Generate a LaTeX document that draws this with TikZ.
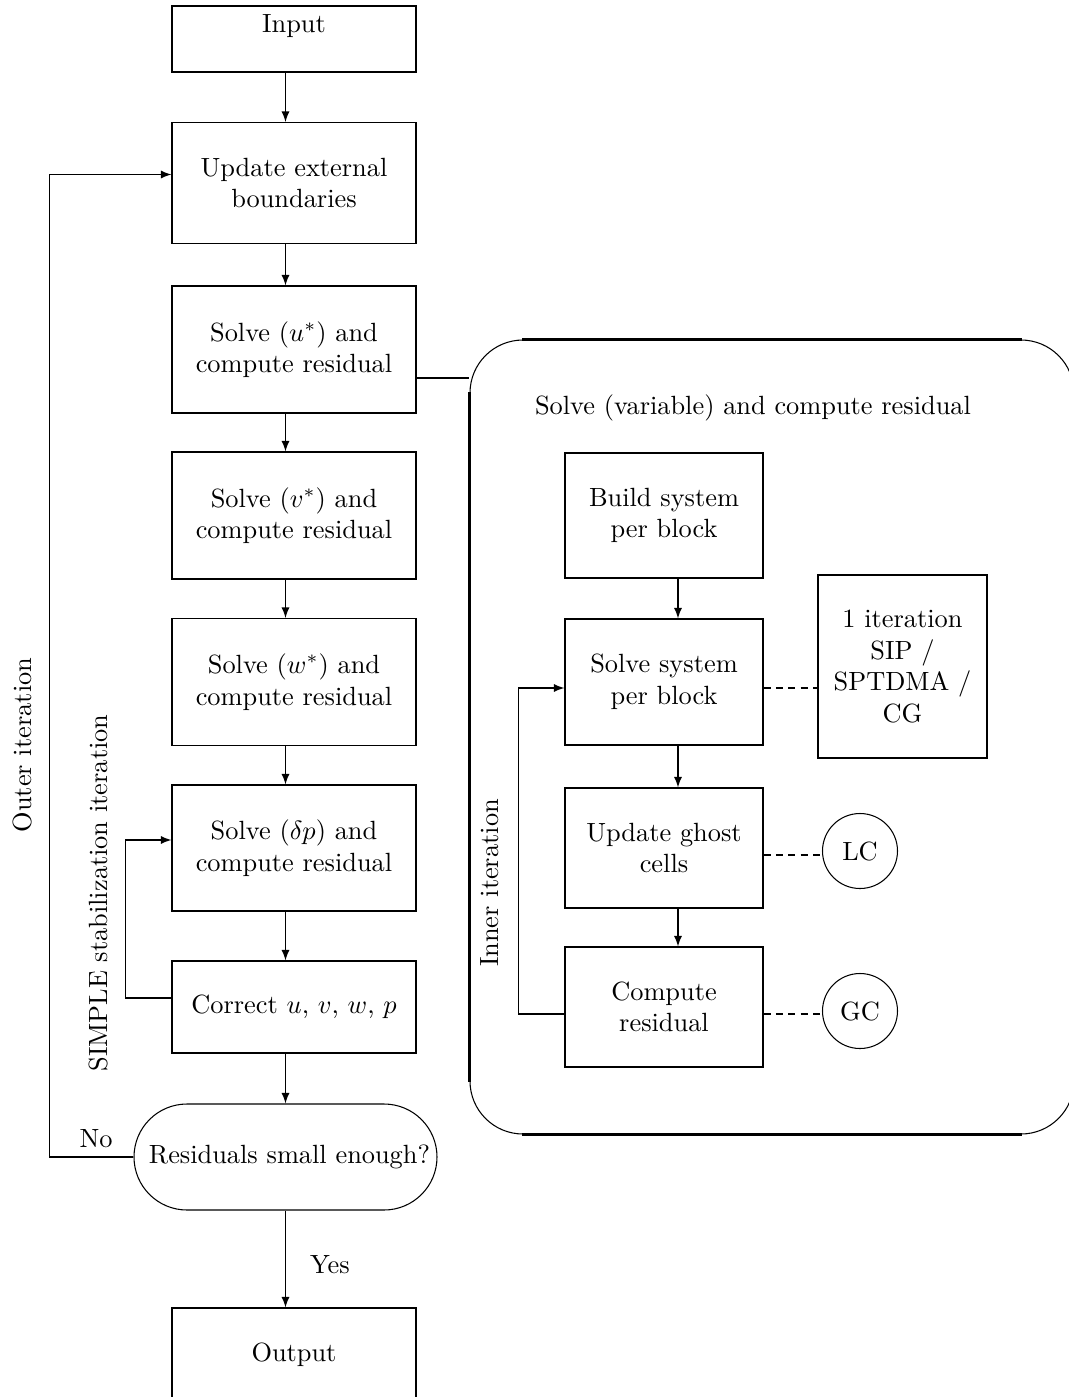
\documentclass[tikz,border=0pt]{standalone}
\usetikzlibrary{calc}
\def\pxu{0.0133333cm}
\begin{document}
\begin{tikzpicture}[x=0.0133333cm, y=-0.0133333cm,
  box/.style={draw, rectangle, align=center, inner sep=0pt},
  arr/.style={-latex},
  dsh/.style={dash pattern=on 2.7pt off 2pt}]
\useasboundingbox (0,0) rectangle (1068,1397);

% left column
\node (input) [box, minimum width=244*\pxu, minimum height=66*\pxu] at (294,39) {};
\node (inputtxt) at (294,26) {Input};
\node (upd) [box, minimum width=244*\pxu, minimum height=121*\pxu] at (294,183) {Update external\\boundaries};
\node (su) [box, minimum width=244*\pxu, minimum height=127*\pxu] at (294,349.5) {Solve $(u^*)$ and\\compute residual};
\node (sv) [box, minimum width=244*\pxu, minimum height=127*\pxu] at (294,515.5) {Solve $(v^*)$ and\\compute residual};
\node (sw) [box, minimum width=244*\pxu, minimum height=127*\pxu] at (294,682) {Solve $(w^*)$ and\\compute residual};
\node (sdp) [box, minimum width=244*\pxu, minimum height=126*\pxu] at (294,848) {Solve $(\delta p)$ and\\compute residual};
\node (corr) [box, minimum width=244*\pxu, minimum height=92*\pxu] at (294,1007) {Correct $u$, $v$, $w$, $p$};
\node (res) [draw, rounded corners=0.7067cm, inner sep=0pt, minimum width=303*\pxu, minimum height=106*\pxu] at (285.5,1157) {\hspace{3pt}Residuals small enough?};
\node (output) [box, minimum width=244*\pxu, minimum height=122*\pxu] at (294,1369) {};
\node (outtxt) at (294,1355) {Output};

\draw[arr] (input.south -| res.center) -- (upd.north -| res.center);
\draw[arr] (upd.south -| res.center) -- (su.north -| res.center);
\draw[arr] (su.south -| res.center) -- (sv.north -| res.center);
\draw[arr] (sv.south -| res.center) -- (sw.north -| res.center);
\draw[arr] (sw.south -| res.center) -- (sdp.north -| res.center);
\draw[arr] (sdp.south -| res.center) -- (corr.north -| res.center);
\draw[arr] (corr.south -| res.center) -- (res.north);
\draw[arr] (res.south) -- (output.north -| res.center);
\node (yes) at (330,1265) {Yes};

% loops on the left
\draw[arr] ($(corr.west)+(0,-9)$) -- ++(-46,0) |- ($(sdp.west)+(0,-8)$);
\draw[arr] (res.west) -- ++(-84,0) |- ($(upd.west)+(0,-8.5)$);
\node (no) at (96,1139) {No};
\node (outer) [rotate=90] at (22,745) {Outer iteration};
\node (simple) [rotate=90] at (98,893) {SIMPLE stabilization iteration};

% container
\node (cont) [draw, rounded corners=0.7067cm, inner sep=0pt, minimum width=604*\pxu, minimum height=794*\pxu] at (772,737) {};
\draw[thick] ($(cont.north west)+(53,0)$) -- ($(cont.north east)+(-53,0)$);
\draw[thick] ($(cont.south west)+(53,0)$) -- ($(cont.south east)+(-53,0)$);
\draw[thick] ($(cont.north west)+(0,53)$) -- ($(cont.south west)+(0,-53)$);
\draw[thick] ($(cont.north east)+(0,53)$) -- ($(cont.south east)+(0,-53)$);
\draw ($(su.east)+(0,28.5)$) -- (cont.west |- {$(su.east)+(0,28.5)$});
\node (title) at (753,408) {Solve (variable) and compute residual};

% right column
\coordinate (rc) at (678,0);
\node (build) [box, minimum width=198*\pxu, minimum height=125*\pxu] at (664,515.5) {Build system\\per block};
\node (solve) [box, minimum width=198*\pxu, minimum height=126*\pxu] at (664,682) {Solve system\\per block};
\node (ghost) [box, minimum width=198*\pxu, minimum height=120*\pxu] at (664,848) {Update ghost\\cells};
\node (comp) [box, minimum width=198*\pxu, minimum height=120*\pxu] at (664,1007) {Compute\\residual};
\node (iter) [box, minimum width=169*\pxu, minimum height=183*\pxu] at (902.5,666.5) {1 iteration\\SIP /\\SPTDMA /\\CG};
\node (lc) [draw, circle, inner sep=0pt, minimum size=75*\pxu] at (860,851) {LC};
\node (gc) [draw, circle, inner sep=0pt, minimum size=75*\pxu] at (860,1011) {GC};

\draw[arr] (build.south -| rc) -- (solve.north -| rc);
\draw[arr] (solve.south -| rc) -- (ghost.north -| rc);
\draw[arr] (ghost.south -| rc) -- (comp.north -| rc);
\draw[dsh] ($(solve.east)+(0,6)$) -- (iter.west |- {$(solve.east)+(0,6)$});
\draw[dsh] ($(ghost.east)+(0,7)$) -- ($(lc.center)+(-37.5,4)$);
\draw[dsh] ($(comp.east)+(0,7)$) -- ($(gc.center)+(-37.5,3)$);
\draw[arr] ($(comp.west)+(0,7)$) -- ++(-46,0) |- ($(solve.west)+(0,6)$);
\node (inner) [rotate=90] at (490,883) {Inner iteration};
\end{tikzpicture}
\end{document}
